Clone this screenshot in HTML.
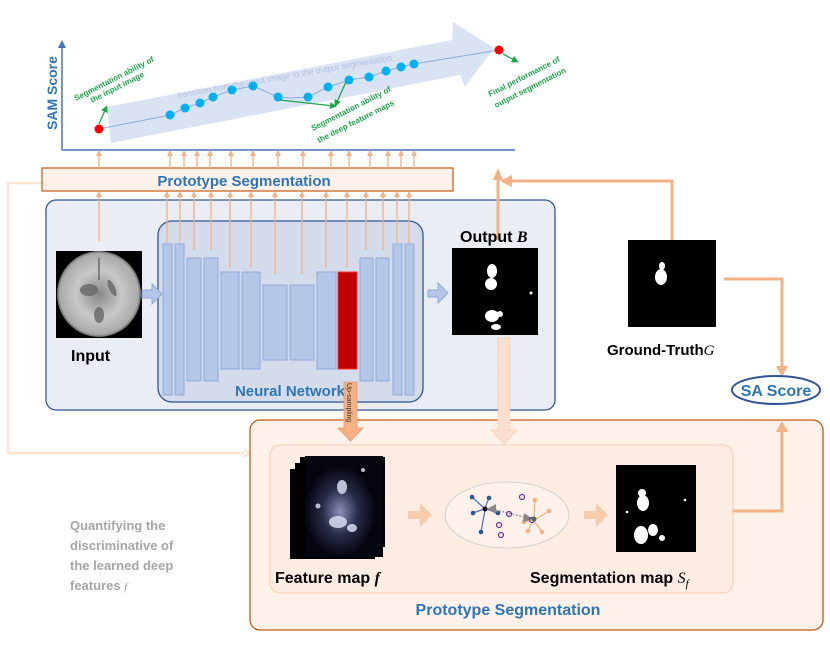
<!DOCTYPE html>
<html><head><meta charset="utf-8"><style>
html,body{margin:0;padding:0;background:#fff}
svg{display:block;font-family:"Liberation Sans",sans-serif}
.b{font-weight:bold}
</style></head><body>
<svg width="830" height="656" viewBox="0 0 830 656" xmlns="http://www.w3.org/2000/svg">
<defs>
<marker id="ao" markerWidth="6" markerHeight="6" refX="3" refY="3" orient="auto" markerUnits="userSpaceOnUse"><path d="M0,0 L6,3 L0,6 z" fill="#f4b183"/></marker>
<marker id="ag" markerWidth="7" markerHeight="7" refX="4" refY="3.5" orient="auto" markerUnits="userSpaceOnUse"><path d="M0,0 L7,3.5 L0,7 z" fill="#1ea64a"/></marker>
<marker id="ab" markerWidth="8" markerHeight="8" refX="4" refY="4" orient="auto" markerUnits="userSpaceOnUse"><path d="M0,0 L8,4 L0,8 z" fill="#4472c4"/></marker>
<radialGradient id="brain" cx="50%" cy="50%" r="55%"><stop offset="0" stop-color="#888"/><stop offset="0.5" stop-color="#c8c8c8"/><stop offset="0.85" stop-color="#aaa"/><stop offset="1" stop-color="#000"/></radialGradient>
<radialGradient id="feat" cx="45%" cy="55%" r="45%"><stop offset="0" stop-color="#8a90b8"/><stop offset="0.5" stop-color="#2a2d4a"/><stop offset="1" stop-color="#050510"/></radialGradient>
</defs>

<line x1="62" y1="150" x2="62" y2="44" stroke="#4472c4" stroke-width="1.5" marker-end="url(#ab)"/>
<line x1="62" y1="150" x2="515" y2="150" stroke="#4472c4" stroke-width="1.5"/>
<text transform="translate(57,130) rotate(-90)" font-size="14" class="b" fill="#2e75b6">SAM Score</text>
<path d="M107,107 L452,40 L453,22 L494,48 L465,87 L460,75 L111,143 z" fill="#dae3f3"/>
<text transform="translate(178,98) rotate(-10)" font-size="8.5" fill="#b4bfe0">transition from the input image to the output segmentation</text>
<polyline points="99,129 170,115 185,108 200,103 213,97 232,90 253,86 278,97 290,98 308,97 328,87 349,80 369,77 386,71 401,67 414,64 499,50" fill="none" stroke="#8faadc" stroke-width="1"/>
<g fill="#00b0f0">
<circle cx="170" cy="115" r="4.5"/><circle cx="185" cy="108" r="4.5"/><circle cx="200" cy="103" r="4.5"/><circle cx="213" cy="97" r="4.5"/><circle cx="232" cy="90" r="4.5"/><circle cx="253" cy="86" r="4.5"/><circle cx="278" cy="97" r="4.5"/><circle cx="308" cy="97" r="4.5"/><circle cx="328" cy="87" r="4.5"/><circle cx="349" cy="80" r="4.5"/><circle cx="369" cy="77" r="4.5"/><circle cx="386" cy="71" r="4.5"/><circle cx="401" cy="67" r="4.5"/><circle cx="414" cy="64" r="4.5"/>
</g>
<circle cx="99" cy="129" r="4.5" fill="#ff0000"/>
<circle cx="499" cy="50" r="4.5" fill="#ff0000"/>
<line x1="99" y1="124" x2="106" y2="108" stroke="#1ea64a" stroke-width="1.3" marker-end="url(#ag)"/>
<line x1="280" y1="100" x2="334" y2="106" stroke="#1ea64a" stroke-width="1.3" marker-end="url(#ag)"/>
<line x1="346" y1="82" x2="336" y2="104" stroke="#1ea64a" stroke-width="1.3" marker-end="url(#ag)"/>
<line x1="503" y1="54" x2="516" y2="61" stroke="#1ea64a" stroke-width="1.3" marker-end="url(#ag)"/>
<g font-size="8" class="b" fill="#1ea64a">
<text transform="translate(76,101) rotate(-27)">Segmentation ability of</text>
<text transform="translate(92,103) rotate(-27)">the input image</text>
<text transform="translate(313,131) rotate(-27)">Segmentation ability of</text>
<text transform="translate(319,143) rotate(-27)">the deep feature maps</text>
<text transform="translate(490,97) rotate(-27)">Final performance of</text>
<text transform="translate(496,108) rotate(-27)">output segmentation</text>
</g>

<rect x="46" y="200" width="509" height="210" rx="10" fill="#eaedf3" stroke="#2f5597" stroke-width="1.3"/>
<rect x="158" y="221" width="265" height="181" rx="14" fill="#d4dcec" stroke="#2f5597" stroke-width="1.3"/>

<path d="M42,183 L8,183 L8,453 L244,453" fill="none" stroke="#fde4d3" stroke-width="2.5"/>
<path d="M244,449 L250,453 L244,457" fill="none" stroke="#fde4d3" stroke-width="2"/>

<rect x="42" y="168" width="411" height="23" fill="#fdf1ea" stroke="#c55a11" stroke-width="1.2"/>
<text x="244" y="186" font-size="15" class="b" fill="#2e75b6" text-anchor="middle">Prototype Segmentation</text>

<g stroke="#f4b183" stroke-width="1.3" marker-end="url(#ao)">
<line x1="99" y1="168" x2="99" y2="153"/>
<line x1="170" y1="168" x2="170" y2="153"/><line x1="184" y1="168" x2="184" y2="153"/><line x1="197" y1="168" x2="197" y2="153"/><line x1="210" y1="168" x2="210" y2="153"/><line x1="231" y1="168" x2="231" y2="153"/><line x1="253" y1="168" x2="253" y2="153"/><line x1="278" y1="168" x2="278" y2="153"/><line x1="303" y1="168" x2="303" y2="153"/><line x1="331" y1="168" x2="331" y2="153"/><line x1="349" y1="168" x2="349" y2="153"/><line x1="370" y1="168" x2="370" y2="153"/><line x1="388" y1="168" x2="388" y2="153"/><line x1="401" y1="168" x2="401" y2="153"/><line x1="414" y1="168" x2="414" y2="153"/>
</g>
<g stroke="#f4b183" stroke-width="1.3" marker-end="url(#ao)">
<line x1="99" y1="241" x2="99" y2="194"/>
<line x1="167" y1="243" x2="167" y2="194"/><line x1="180" y1="243" x2="180" y2="194"/><line x1="194" y1="250" x2="194" y2="194"/><line x1="211" y1="250" x2="211" y2="194"/><line x1="230" y1="267" x2="230" y2="194"/><line x1="251" y1="267" x2="251" y2="194"/><line x1="275" y1="274" x2="275" y2="194"/><line x1="302" y1="274" x2="302" y2="194"/><line x1="326" y1="267" x2="326" y2="194"/><line x1="347" y1="267" x2="347" y2="194"/><line x1="366" y1="250" x2="366" y2="194"/><line x1="383" y1="250" x2="383" y2="194"/><line x1="397" y1="243" x2="397" y2="194"/><line x1="409" y1="243" x2="409" y2="194"/>
</g>

<g fill="#b4c7e7" stroke="#8faadc" stroke-width="1">
<rect x="163" y="244" width="9" height="151"/><rect x="175" y="244" width="9" height="151"/>
<rect x="187" y="258" width="14" height="123"/><rect x="204" y="258" width="14" height="123"/>
<rect x="221" y="272" width="18" height="97"/><rect x="242" y="272" width="18" height="97"/>
<rect x="263" y="285" width="24" height="75"/><rect x="290" y="285" width="24" height="75"/>
<rect x="317" y="272" width="19" height="97"/>
<rect x="360" y="258" width="13" height="123"/><rect x="376" y="258" width="13" height="123"/>
<rect x="393" y="244" width="9" height="151"/><rect x="405" y="244" width="9" height="151"/>
</g>
<rect x="338" y="272" width="19" height="97" fill="#c00000" stroke="#ff3030"/>
<text x="290" y="396" font-size="15" class="b" fill="#2e75b6" text-anchor="middle">Neural Network</text>

<rect x="56" y="251" width="86" height="87" fill="#000"/>
<ellipse cx="99" cy="294" rx="42" ry="43" fill="url(#brain)"/>
<g fill="#666" opacity="0.8"><ellipse cx="89" cy="290" rx="9" ry="6"/><ellipse cx="112" cy="288" rx="3" ry="9" transform="rotate(-25 112 288)"/><ellipse cx="99" cy="315" rx="5" ry="8"/><line x1="99" y1="258" x2="99" y2="280" stroke="#555" stroke-width="1.5"/></g>
<text x="71" y="361" font-size="16" class="b" fill="#000">Input</text>
<path d="M142,290 L152,290 L152,284 L162,294 L152,304 L152,298 L142,298 z" fill="#b4c7e7" stroke="#8faadc"/>
<path d="M428,290 L438,290 L438,283 L448,293 L438,303 L438,297 L428,297 z" fill="#b4c7e7" stroke="#8faadc"/>

<path d="M498,240 L498,177" stroke="#f4b183" stroke-width="3" fill="none"/>
<path d="M493,180 L498,168 L503,180 z" fill="#f4b183"/>
<path d="M672,240 L672,181 L507,181" stroke="#f4b183" stroke-width="3" fill="none"/>
<path d="M512,175 L500,181 L512,187 z" fill="#f4b183"/>

<text x="460" y="242" font-size="16" class="b" fill="#000">Output <tspan font-style="italic" font-family="Liberation Serif">B</tspan></text>
<rect x="452" y="248" width="86" height="87" fill="#000"/>
<g fill="#fff"><ellipse cx="492" cy="271" rx="5" ry="7"/><ellipse cx="491" cy="284" rx="6" ry="6"/><ellipse cx="492" cy="316" rx="7" ry="6"/><circle cx="500" cy="314" r="3"/><ellipse cx="496" cy="327" rx="5" ry="3"/><circle cx="531" cy="293" r="1.5"/></g>

<rect x="628" y="240" width="88" height="87" fill="#000"/>
<g fill="#fff"><ellipse cx="661" cy="277" rx="6" ry="8"/><ellipse cx="662" cy="266" rx="3" ry="4"/></g>
<text x="607" y="355" font-size="15" class="b" fill="#000">Ground-Truth<tspan font-style="italic" font-family="Liberation Serif" font-weight="normal">G</tspan></text>
<path d="M724,279 L782,279 L782,368" stroke="#f4b183" stroke-width="3" fill="none"/>
<path d="M776,366 L782,377 L788,366 z" fill="#f4b183"/>
<ellipse cx="776" cy="390" rx="44" ry="14" fill="#fff" stroke="#2f5597" stroke-width="2"/>
<text x="776" y="396" font-size="16" class="b" fill="#2e75b6" text-anchor="middle">SA Score</text>

<rect x="250" y="420" width="573" height="210" rx="10" fill="#fdf1ea" stroke="#c55a11" stroke-width="1.3"/>
<rect x="270" y="445" width="463" height="148" rx="10" fill="#fcece2" stroke="#f8cbad" stroke-width="1"/>
<text x="508" y="615" font-size="16" class="b" fill="#2e75b6" text-anchor="middle">Prototype Segmentation</text>
<path d="M733,511 L782,511 L782,430" stroke="#f4b183" stroke-width="3" fill="none"/>
<path d="M776,432 L782,421 L788,432 z" fill="#f4b183"/>

<path d="M344,382 L357,382 L357,428 L363,428 L350.5,441 L338,428 L344,428 z" fill="#f4b183" stroke="#e69a6a" stroke-width="0.8"/>
<text transform="translate(347,383) rotate(90)" font-size="7" fill="#333">Up-sampling</text>
<path d="M498,338 L510,338 L510,430 L517,430 L504,444 L491,430 L498,430 z" fill="#fbe0cf" stroke="#f8cbad" stroke-dasharray="2,1"/>

<rect x="290" y="469" width="85" height="90" fill="#000"/>
<rect x="295" y="463" width="85" height="90" fill="#000"/>
<rect x="300" y="457" width="85" height="90" fill="#000"/>
<rect x="305" y="456" width="78" height="101" fill="url(#feat)"/>
<g fill="#d8dcf0" opacity="0.85"><ellipse cx="342" cy="487" rx="5" ry="7"/><ellipse cx="338" cy="522" rx="9" ry="6"/><ellipse cx="352" cy="528" rx="5" ry="4"/><circle cx="363" cy="470" r="2"/><circle cx="318" cy="506" r="2.5"/></g>
<text x="275" y="583" font-size="16" class="b" fill="#000">Feature map <tspan font-style="italic" font-family="Liberation Serif">f</tspan></text>

<path d="M408,511 L420,511 L420,503 L432,515 L420,527 L420,519 L408,519 z" fill="#f8cbad"/>
<path d="M584,511 L596,511 L596,503 L608,515 L596,527 L596,519 L584,519 z" fill="#f8cbad"/>

<ellipse cx="507" cy="515" rx="62" ry="33" fill="#fdf1ea" stroke="#c9c9c9" stroke-width="0.8"/>
<g stroke="#4472c4" stroke-width="1.2">
<line x1="472" y1="497" x2="484" y2="508"/><line x1="489" y1="498" x2="485" y2="508"/><line x1="473" y1="513" x2="484" y2="509"/><line x1="498" y1="513" x2="486" y2="509"/><line x1="481" y1="532" x2="485" y2="510"/>
</g>
<g fill="#2f5597"><circle cx="472" cy="497" r="2.3"/><circle cx="489" cy="498" r="2.3"/><circle cx="473" cy="513" r="2.3"/><circle cx="498" cy="513" r="2.3"/><circle cx="481" cy="532" r="2.3"/></g>
<circle cx="485" cy="509" r="2.5" fill="#1a0a20"/>
<g stroke="#f4b183" stroke-width="1.2">
<line x1="535" y1="500" x2="534" y2="518"/><line x1="549" y1="511" x2="536" y2="519"/><line x1="524" y1="522" x2="532" y2="520"/><line x1="528" y1="531" x2="533" y2="521"/><line x1="542" y1="532" x2="535" y2="522"/>
</g>
<g fill="#f4b183"><circle cx="535" cy="500" r="2.3"/><circle cx="549" cy="511" r="2.3"/><circle cx="524" cy="522" r="2.3"/><circle cx="528" cy="531" r="2.3"/><circle cx="542" cy="532" r="2.3"/></g>
<circle cx="534" cy="519" r="2.5" fill="#4c8c2c"/>
<line x1="492" y1="509" x2="528" y2="518" stroke="#999" stroke-width="1.5" stroke-dasharray="2,1.5"/>
<path d="M496,504 L487,509 L496,514 z" fill="#888"/>
<path d="M524,513 L533,519 L523,522 z" fill="#888"/>
<g fill="none" stroke="#7030a0" stroke-width="1.2"><circle cx="522" cy="497" r="2.5"/><circle cx="509" cy="514" r="2.5"/><circle cx="499" cy="525" r="2.5"/><circle cx="501" cy="535" r="2.5"/><circle cx="532" cy="520" r="2.5"/></g>

<rect x="616" y="465" width="80" height="87" fill="#000"/>
<g fill="#fff"><ellipse cx="642" cy="493" rx="4" ry="4"/><ellipse cx="643" cy="503" rx="6" ry="8"/><ellipse cx="641" cy="535" rx="7" ry="9"/><ellipse cx="653" cy="530" rx="5" ry="6"/><circle cx="662" cy="538" r="3"/><circle cx="627" cy="512" r="1.3"/><circle cx="685" cy="500" r="1.3"/></g>
<text x="530" y="583" font-size="16" class="b" fill="#000">Segmentation map <tspan font-style="italic" font-family="Liberation Serif" font-weight="normal">S<tspan font-size="11" dy="4">f</tspan></tspan></text>

<g font-size="13" class="b" fill="#a6a6a6">
<text x="70" y="530">Quantifying the</text>
<text x="70" y="550">discriminative of</text>
<text x="70" y="570">the learned deep</text>
<text x="70" y="590">features <tspan font-style="italic" font-family="Liberation Serif" font-weight="normal" font-size="11">f</tspan></text>
</g>
</svg>
</body></html>
